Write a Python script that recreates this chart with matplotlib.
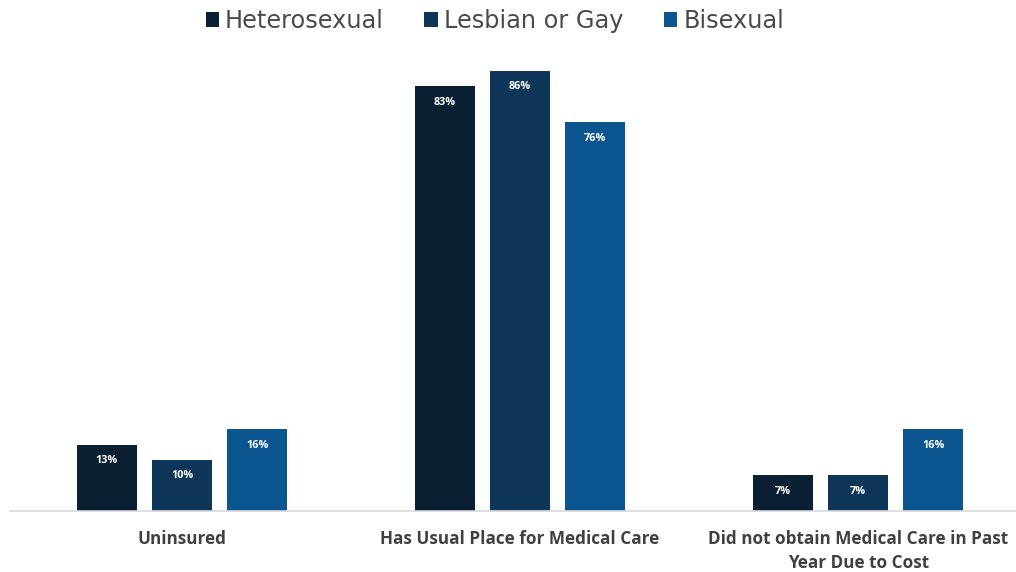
import matplotlib.pyplot as plt
import numpy as np
from matplotlib.patches import Patch

# Health care access by sexual orientation (percent)
categories = ['Uninsured',
              'Has Usual Place for Medical Care',
              'Did not obtain Medical Care in Past\nYear Due to Cost']
groups = ['Heterosexual', 'Lesbian or Gay', 'Bisexual']
heterosexual = [13, 83, 7]
lesbian_gay = [10, 86, 7]
bisexual = [16, 76, 16]

colors = ['#0b1f33', '#0d3658', '#0b5690']

fig = plt.figure(figsize=(10.16, 5.72), dpi=100)
ax = fig.add_axes([0.0098, 0.1066, 0.9902, 0.823])

x = np.arange(len(categories))
width = 0.1775
step = 0.222

for i, (vals, color) in enumerate(zip([heterosexual, lesbian_gay, bisexual], colors)):
    pos = x + (i - 1) * step
    bars = ax.bar(pos, vals, width, color=color, zorder=2)
    for b, v in zip(bars, vals):
        ax.annotate(f'{v}%', (b.get_x() + b.get_width() / 2, v),
                    xytext=(0, -11.5), textcoords='offset points',
                    ha='center', va='center', color='white',
                    fontsize=7.8, fontweight='bold', family='Open Sans')

ax.set_xlim(-0.509, 2.467)
ax.set_ylim(0, 92)

# Axes visuals
for s in ['top', 'right', 'left']:
    ax.spines[s].set_visible(False)
ax.spines['bottom'].set_color('#d9d9d9')
ax.spines['bottom'].set_linewidth(1.2)
ax.set_yticks([])
ax.set_xticks(x)
ax.set_xticklabels(categories, fontsize=12.3, fontweight='bold',
                   color='#404040', family='Open Sans', linespacing=1.45)
ax.tick_params(axis='x', length=0, pad=13.5)

handles = [Patch(facecolor=c, label=g) for c, g in zip(colors, groups)]
fig.legend(handles=handles, loc='upper center', bbox_to_anchor=(0.487, 1.022),
           ncol=3, frameon=False, handlelength=0.55,
           handleheight=0.55, handletextpad=0.25, columnspacing=1.7,
           labelcolor='#4a4a4a', prop={'family': 'DejaVu Sans', 'size': 17.3})

fig.savefig('out.png', dpi=100)
